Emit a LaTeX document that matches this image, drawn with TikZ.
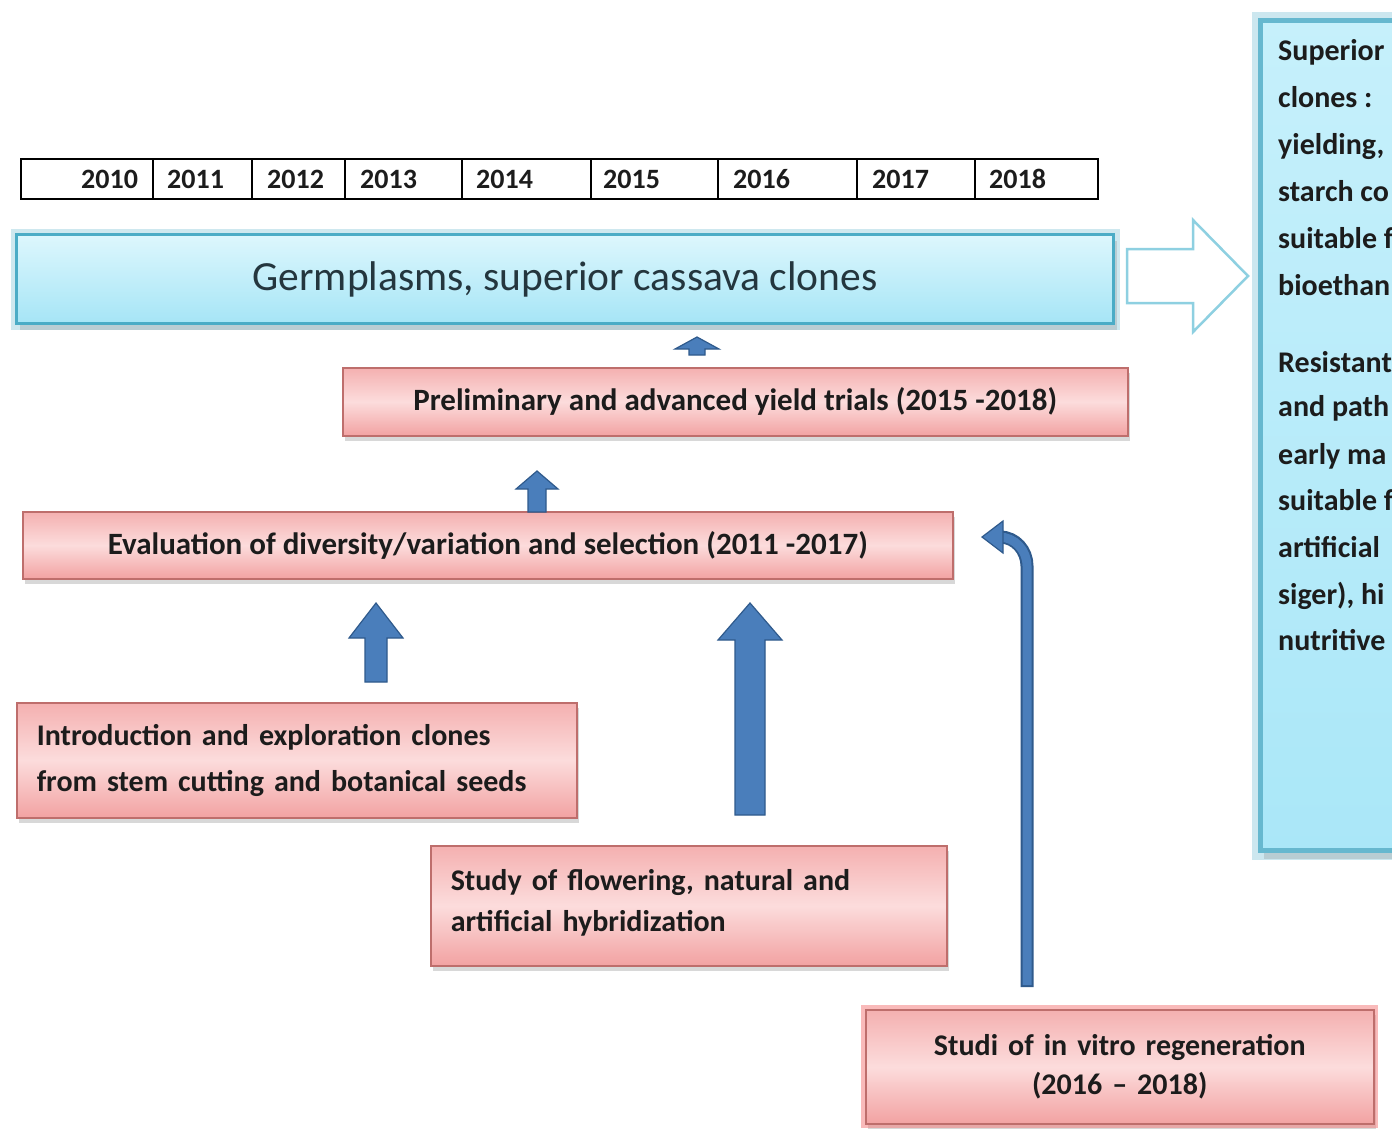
\documentclass[tikz,border=0pt]{standalone}
\usepackage{fontspec}
\setmainfont{Carlito}
\usetikzlibrary{shadows,calc}
\definecolor{pinkT}{HTML}{F4B0B0}
\definecolor{pinkM}{HTML}{FCDCDC}
\definecolor{pinkB}{HTML}{F2A2A2}
\definecolor{pinkD}{HTML}{BE6E6C}
\definecolor{cyanT}{HTML}{DDF7FD}
\definecolor{cyanB}{HTML}{A6E5F6}
\definecolor{cyanD}{HTML}{4BACC6}
\definecolor{panelT}{HTML}{C6F0FB}
\definecolor{panelB}{HTML}{AAE7F8}
\definecolor{hollow}{HTML}{8ED0E1}
\definecolor{arrowF}{HTML}{4A7EBB}
\definecolor{arrowD}{HTML}{2F5A8C}
\definecolor{txt}{HTML}{1C1C1C}
\definecolor{germtxt}{HTML}{24363E}
\newcommand\blkarrow[6]{%
  \draw[blockarrow] (#1-#4,#2) -- (#1-#4,#3+#6) -- (#1-#5,#3+#6) -- (#1,#3)
    -- (#1+#5,#3+#6) -- (#1+#4,#3+#6) -- (#1+#4,#2) -- cycle;}
\begin{document}
\begin{tikzpicture}[x=1pt,y=-1pt,
  pinkbox/.style={draw=pinkD, line width=1.5pt, top color=pinkT, bottom color=pinkB,
    middle color=pinkM, drop shadow={shadow xshift=2pt,shadow yshift=-5pt,opacity=.3},
    inner sep=0pt, anchor=north west, text=txt},
  boldtext/.style={font=\fontsize{31}{36}\selectfont\bfseries},
  yearlbl/.style={font=\fontsize{28}{34}\selectfont\bfseries, anchor=west, inner sep=0pt, text=txt},
  paneltext/.style={font=\fontsize{30}{36}\selectfont\bfseries, anchor=base west, inner sep=0pt, text=txt},
  blockarrow/.style={fill=arrowF, draw=arrowD, line width=1.2pt, line join=miter},
]
\useasboundingbox (0,0) rectangle (1392,1133);
\fill[white] (0,0) rectangle (1392,1133);
\begin{scope}
\clip (0,0) rectangle (1392,1133);

% year table
\node[draw=black, line width=1.8pt, minimum width=1077pt, minimum height=40pt, inner sep=0pt, anchor=north west] (table) at (20,158) {};
\foreach \xx in {153,252,345,462,591,718,857,975}{
  \draw[line width=1.8pt] (\xx,158) -- (\xx,198);
}
\foreach \yr/\xx in {2010/81,2011/167,2012/267,2013/360,2014/476,2015/603,2016/733,2017/872,2018/989}{
  \node[yearlbl] (y\yr) at (\xx,179) {\yr};
}

% germplasm box
\node[anchor=north west, minimum width=1097pt, minimum height=89pt, inner sep=0pt,
  top color=cyanT, bottom color=cyanB,
  preaction={draw=cyanD!60, line width=12pt, opacity=.45},
  draw=cyanD, line width=3pt,
  drop shadow={shadow xshift=3pt,shadow yshift=-6pt,opacity=.25},
  font=\fontsize{41.5}{48}\selectfont, text=germtxt] (germ) at (15,233)
  {Germplasms, superior cassava clones};

% hollow arrow
\draw[hollow, line width=2.5pt, fill=white, line join=miter]
  (1127,249) -- (1193,249) -- (1193,220) -- (1248,276) -- (1193,332) -- (1193,303) -- (1127,303) -- cycle;

% right panel
\node[anchor=north west, minimum width=200pt, minimum height=830pt, inner sep=0pt,
  top color=panelT, bottom color=panelB,
  preaction={draw=cyanD!70, line width=18pt, opacity=.4},
  draw=cyanD!85, line width=5pt,
  drop shadow={shadow xshift=3pt,shadow yshift=-8pt,opacity=.25}] (panel) at (1258,18) {};
\foreach \n/\yy/\tt in {1/60/{Superior},2/107/{clones :},3/154/{yielding,},4/201/{starch co},
  5/248/{suitable f},6/295/{bioethan},7/372/{Resistant},8/416/{and path},9/464/{early ma},
  10/510/{suitable f},11/557/{artificial},12/604/{siger), hi},13/650/{nutritive}}{
  \node[paneltext] (p\n) at (1278,\yy) {\tt};
}

% pink boxes
\node[pinkbox, boldtext, minimum width=785pt, minimum height=68pt] (prelim) at (342,367)
  {Preliminary and advanced yield trials (2015 -2018)};
\node[pinkbox, boldtext, minimum width=930pt, minimum height=67pt] (eval) at (22,511)
  {Evaluation of diversity/variation and selection (2011 -2017)};
\node[pinkbox, font=\fontsize{30}{46}\selectfont\bfseries, minimum width=560pt, minimum height=115pt,
  text width=520pt, align=left] (intro) at (16,702)
  {Introduction and exploration clones\\from stem cutting and botanical seeds};
\node[pinkbox, font=\fontsize{30}{41}\selectfont\bfseries, minimum width=516pt, minimum height=120pt,
  text width=476pt, align=left] (study) at (430,845)
  {Study of flowering, natural and\\artificial hybridization\\[-30pt]\mbox{}};
\node[pinkbox, font=\fontsize{30}{39}\selectfont\bfseries, minimum width=508pt, minimum height=114pt,
  text width=490pt, align=center,
  preaction={draw=pinkB!80!red, line width=9pt, opacity=.55}] (studi) at (865,1009)
  {Studi of in vitro regeneration\\(2016 – 2018)};

% block arrows
\blkarrow{697}{355}{337}{8}{22}{12}
\blkarrow{537}{512}{471}{9}{21}{18}
\blkarrow{376}{682}{603}{11}{27}{35}
\blkarrow{750}{815}{603}{15}{32}{37}

% bent arrow from studi to eval
\coordinate (bendtop) at ($(studi.north west)+(162,-22)$);
\draw[arrowD, line width=13pt] (bendtop) -- (1027,566) to[out=90,in=0] (1000,537);
\draw[arrowF, line width=9pt] ($(bendtop)+(0,-2)$) -- (1027,566) to[out=90,in=0] (999,537);
\draw[blockarrow] (1003,521) -- (982,537) -- (1003,553) -- cycle;
\end{scope}
\end{tikzpicture}
\end{document}
